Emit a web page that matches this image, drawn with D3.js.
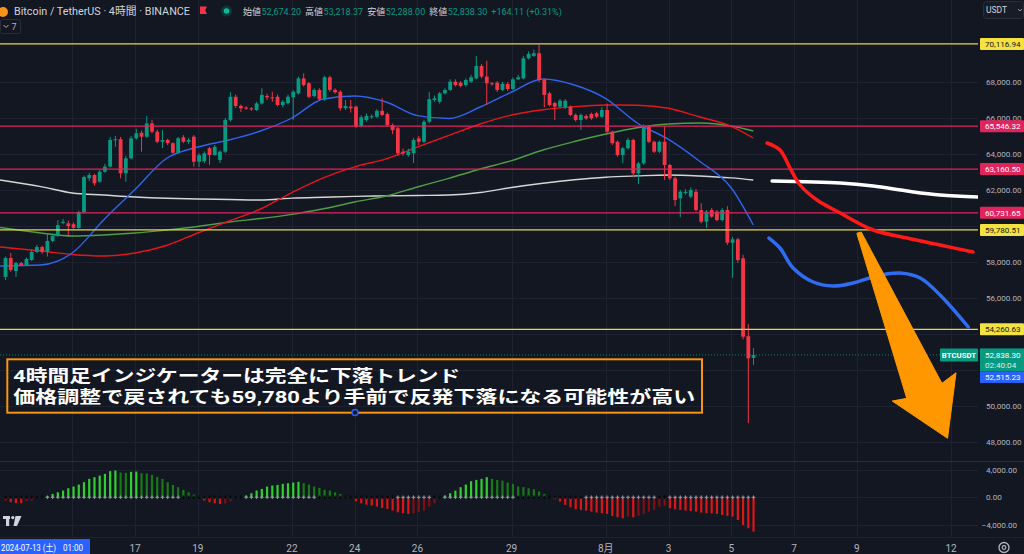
<!DOCTYPE html>
<html><head><meta charset="utf-8">
<script src="https://cdn.jsdelivr.net/npm/d3@7/dist/d3.min.js"></script>
<style>
html,body{margin:0;padding:0;background:#131722;overflow:hidden}
svg{display:block}
text{font-family:Roboto,"Liberation Sans","Noto Sans CJK JP",sans-serif}
</style></head><body>
<svg id="c" width="1024" height="554"></svg>
<script>
// ---------- DATA ----------
const symbolTitle = "Bitcoin / TetherUS · 4時間 · BINANCE";
const ohlcLabels = ["始値","高値","安値","終値"];
const ohlcValues = ["52,674.20","53,218.37","52,288.00","52,838.30"];
const changeText = "+164.11 (+0.31%)";
const firstCandleDay = 12.875;      // 2024-07-12 21:00 (day number in July)
const candleStepDay = 1/6;          // 4h candles

const opens = [57170,58220,57500,57940,57830,58110,58560,58830,58560,59170,
59440,60170,60150,60100,59890,60780,62650,62830,62460,63020,
63300,64780,64820,62930,63760,64870,65180,64960,65700,65240,
64680,64780,64600,64070,64930,64680,64960,63570,63600,64320,
63940,63670,64130,65890,67180,66670,66580,66540,66440,66810,
67220,67150,67180,66720,66830,67150,67370,68200,67930,67220,
67560,67040,68260,67560,67460,66540,66630,66630,65560,65890,
66050,66070,66400,66220,65610,65430,64130,63940,64040,64870,
64680,65790,67000,66900,67370,67560,68020,67960,67830,68020,
68200,68890,68300,67930,67960,67560,67890,67610,68150,68200,
69320,69450,69600,68110,67370,66830,66630,66600,66630,66170,
65890,66110,66220,66260,66070,66440,65240,64680,63940,64320,
64780,62930,63480,65520,64680,64130,64680,63390,62650,61540,
61830,61630,61900,60890,60240,60890,60800,60330,60890,59070,
59260,58200,53880,52674.2];
const highs = [58300,58500,58000,58000,58250,58700,58950,58900,59600,59550,
60330,60400,60300,60200,60850,62800,62950,62900,63100,63450,
64950,65000,64950,63900,65000,65400,65300,66110,65900,65350,
65330,64850,64650,64950,65050,64900,65050,64050,64150,64400,
64500,64200,66000,67430,67300,66750,66650,66600,66900,67650,
67350,67460,67300,67000,67300,67550,68300,68480,68000,67650,
67650,68350,68350,67650,67550,67000,67000,66700,66150,66250,
66200,66500,67100,66300,65700,65500,64300,64300,64900,65000,
65900,67450,67250,67450,67650,68150,68150,68050,68200,68400,
69440,69000,69180,68000,68050,68000,68000,68250,68400,69450,
69700,69800,70080,68200,67450,66900,67050,67050,66700,66250,
66250,66200,66300,66350,66600,66800,65300,64750,64400,64900,
64850,63550,65650,65600,64750,64750,65560,63450,62750,62000,
62050,62150,62050,61270,60900,61000,60900,61000,61100,59400,
59350,58400,54550,53218.37];
const lows = [57000,57450,57170,57780,57780,58050,58500,58450,58300,59100,
59400,60100,59500,59850,59850,60700,62500,62250,62400,62950,
63250,64400,62650,62460,63700,64800,64130,64900,65150,64600,
64330,64500,64000,64000,64600,64550,63300,63280,63500,63390,
63900,63500,64050,65800,66550,66330,66450,66400,66400,66750,
67000,66900,66650,66600,66750,65890,67300,67750,67100,67150,
66950,66950,67450,67350,66400,66450,66300,65450,65480,65800,
65950,66000,66100,65500,65100,63900,63900,63850,63500,64500,
64600,65700,66900,66800,67300,67500,67750,67700,67750,67950,
68150,68200,66720,67800,67450,67500,67500,67550,68100,68150,
69250,69400,68000,66600,66650,65890,66550,66500,66100,65800,
65330,65900,65900,66000,66000,65150,64500,63850,63500,64250,
62700,62330,63400,64600,64050,64050,62560,62550,61100,60480,
61750,61550,60800,60150,59890,60450,60250,60250,58950,57130,
57950,53700,49050,52288];
const closes = [58220,57560,57940,57830,58170,58560,58830,58560,59170,59440,
60050,60230,60000,59900,60780,62720,62830,62370,63020,63300,
64780,64820,62930,63760,64870,65150,64960,65700,65240,64680,
64780,64600,64070,64870,64680,64780,63570,63940,64040,63940,
64400,64130,65890,67180,66670,66540,66520,66480,66810,67280,
67150,67100,66720,66900,67180,67460,68200,67830,67180,67560,
67040,68260,67560,67430,66540,66670,66540,65520,66040,66110,
66100,66400,66170,65610,65330,64040,64040,64130,64780,64680,
65790,67040,67090,67370,67560,68020,67830,67780,68110,68260,
68890,68300,67930,67890,67560,67890,67610,68150,68260,69320,
69560,69600,68110,67280,66720,66630,66960,66960,66170,65890,
66170,65980,65980,66070,66440,65240,64600,63940,64320,64780,
62930,63480,65520,64680,64130,64680,63390,62650,61440,61900,
61900,62000,60890,60240,60800,60520,60330,60890,59070,59260,
58110,53850,52650,52838.3];

// moving averages, sampled by day
const maDays  = [12.7,14,15,16,17,18,19,20,21,22,23,24,25,26,27,28,29,30,31,32,33,34,35,36,36.7];
const maBlue  = [57777,57833,58500,60333,62027,63750,64389,64778,65278,66000,67056,67222,66889,66133,65972,66611,67445,68167,67833,67078,65722,64811,63583,62111,60056];
const maRed   = [58833,58611,58416,58333,58500,58916,59611,60278,60944,61861,62678,63289,63728,64389,65033,65666,66166,66456,66633,66722,66706,66539,66056,65533,64889];
const maGreen = [59917,59611,59444,59500,59611,59778,59972,60222,60416,60644,60955,61333,61666,62166,62650,63166,63633,64222,64694,65111,65461,65667,65722,65555,65278];
const maWhite = [62555,62189,61833,61722,61611,61539,61500,61472,61444,61550,61600,61644,61672,61694,61722,61861,62139,62372,62567,62711,62783,62833,62778,62672,62555];

// hand-drawn projections
const projRedDays = [37.14,37.55,37.87,38.19,38.73,39.47,40.52,41.60,42.65,43.70];
const projRed     = [64611,64222,63222,62278,61444,60722,59778,59333,58944,58555];
const projWhiteDays = [37.30,39.47,40.52,41.60,42.65,43.86];
const projWhite     = [62500,62389,62222,61944,61722,61611];
const projBlueDays = [37.20,37.55,37.97,38.61,39.24,39.88,40.74,41.38,42.02,42.65,43.55];
const projBlue     = [59333,58778,57667,56889,56666,56833,57278,57389,57111,56167,54389];
const arrowDays   = [40.00,40.14,42.71,43.16,42.89,41.13,41.59];
const arrowPrices = [59594,59666,51260,51849,48204,50276,50426];

// horizontal levels
const yellowLevels = [70116.94, 59780.51, 54260.63];
const pinkLevels   = [65546.32, 63160.50, 60731.65];
const lastPrice = 52838.30;
const countdown = "02:40:04";
const blueValue = 52515.23;

// oscillator (squeeze momentum)
const osc = [-500,-700,-850,-870,-580,-480,-150,40,150,480,
720,960,1300,1540,1830,2170,2650,2890,3130,3370,
3760,3860,3570,3520,3660,3710,3470,3420,3230,2940,
2650,2170,1780,1450,1060,720,390,100,-480,-720,
-870,-960,-870,-580,-100,50,240,580,960,1200,
1540,1690,1780,1930,2020,2120,2220,2020,1830,1540,
1350,1060,960,720,480,100,30,-580,-870,-1060,
-1200,-1350,-1540,-1690,-1930,-2170,-2310,-2410,-2310,-2170,
-1930,-1350,-870,-100,240,580,960,1450,1830,2310,
2500,2650,2890,2650,2500,2400,2120,1930,1540,1450,
1300,1160,820,480,50,-290,-630,-1110,-1450,-1740,
-1830,-1930,-2070,-2220,-2310,-2410,-2700,-2890,-3040,-2800,
-2890,-2700,-2410,-2070,-1830,-1350,-1250,-1590,-1740,-1830,
-1930,-1980,-2070,-2220,-2310,-2330,-2410,-2550,-2700,-2800,
-3280,-4000,-4480,-4960];
const sqzOnRanges = [[0,7],[34,45],[60,74],[82,83],[98,110],[125,126]];

// axes
const priceTicks = [48000,50000,52000,54000,56000,58000,60000,62000,64000,66000,68000];
const oscTicks = [4000,0,-4000];
const tickDays = [15,17,19,22,24,26,29,32,34,36,38,40,43];
const tickLabels = ["15","17","19","22","24","26","29","8月","3","5","7","9","12"];
const crosshairLabel = "2024-07-13 (土)";
const crosshairTime = "01:00";
const noteLines = ["4時間足インジケーターは完全に下落トレンド","価格調整で戻されても59,780より手前で反発下落になる可能性が高い"];

// ---------- LAYOUT ----------
const W = 1024, H = 554, plotR = 978, mainBottom = 461, oscTop = 462, oscBottom = 537;
const C = {bg:"#131722", grid:"#1e2230", up:"#089981", down:"#f23645", text:"#b2b5be",
  yellow:"#e6d743", pink:"#e0245e", blue:"#2962ff"};
const svg = d3.select("#c");
const x = d3.scaleLinear().domain([17,43]).range([135,951]);
const y = d3.scaleLinear().domain([48000,68000]).range([442,82]);
const yo = d3.scaleLinear().domain([-4000,4000]).range([525,469.5]);
const fmt = d3.format(",.2f");
const cx = i => x(firstCandleDay + i*candleStepDay);
const AX = 8.1; // axis font size

svg.append("rect").attr("width",W).attr("height",H).attr("fill",C.bg);
const defs = svg.append("defs");
defs.append("clipPath").attr("id","mainClip").append("rect").attr("x",0).attr("y",0).attr("width",plotR).attr("height",mainBottom);
defs.append("clipPath").attr("id","oscClip").append("rect").attr("x",0).attr("y",oscTop).attr("width",plotR).attr("height",oscBottom-oscTop);

// grid
const grid = svg.append("g").attr("stroke",C.grid).attr("stroke-width",1);
grid.selectAll(".hg").data(priceTicks).join("line").attr("x1",0).attr("x2",plotR)
  .attr("y1",d=>Math.round(y(d))+0.5).attr("y2",d=>Math.round(y(d))+0.5);
grid.selectAll(".og").data(oscTicks).join("line").attr("x1",0).attr("x2",plotR)
  .attr("y1",d=>Math.round(yo(d))+0.5).attr("y2",d=>Math.round(yo(d))+0.5);
grid.selectAll(".vg").data(tickDays).join("line").attr("y1",0).attr("y2",oscBottom)
  .attr("x1",d=>Math.round(x(d))+0.5).attr("x2",d=>Math.round(x(d))+0.5);
svg.append("line").attr("x1",0).attr("x2",plotR+46).attr("y1",oscTop-0.5).attr("y2",oscTop-0.5).attr("stroke","#2a2e39");

// main pane
const main = svg.append("g").attr("clip-path","url(#mainClip)");
const line = d3.line().x(d=>x(d[0])).y(d=>y(d[1])).curve(d3.curveMonotoneX);
const maSets = [[maWhite,"#d6d6d6"],[maGreen,"#4f9d45"],[maRed,"#e5161b"],[maBlue,"#2f64ee"]];
maSets.forEach(([vals,col])=>{
  main.append("path").datum(maDays.map((d,k)=>[d,vals[k]])).attr("d",line)
    .attr("fill","none").attr("stroke",col).attr("stroke-width",1.4);
});

// candles
const cg = main.append("g");
closes.forEach((c,i)=>{
  const o=opens[i], col = c>=o?C.up:C.down, xx=cx(i);
  cg.append("line").attr("x1",xx).attr("x2",xx).attr("y1",y(highs[i])).attr("y2",y(lows[i]))
    .attr("stroke",col).attr("stroke-width",1);
  const t=y(Math.max(o,c)), b=y(Math.min(o,c));
  cg.append("rect").attr("x",xx-1.9).attr("width",3.8).attr("y",t).attr("height",Math.max(1,b-t)).attr("fill",col);
});

// levels
const lv = main.append("g");
yellowLevels.forEach(v=>lv.append("line").attr("x1",0).attr("x2",plotR).attr("y1",y(v)).attr("y2",y(v)).attr("stroke",C.yellow).attr("stroke-width",1.3));
pinkLevels.forEach(v=>lv.append("line").attr("x1",0).attr("x2",plotR).attr("y1",y(v)).attr("y2",y(v)).attr("stroke",C.pink).attr("stroke-width",1.3));

// current price line
main.append("line").attr("x1",0).attr("x2",plotR).attr("y1",y(lastPrice)).attr("y2",y(lastPrice))
  .attr("stroke",C.up).attr("stroke-width",1).attr("stroke-dasharray","1,2").attr("opacity",0.8);

// projections
const pline = d3.line().x(d=>x(d[0])).y(d=>y(d[1])).curve(d3.curveCatmullRom);
[[projWhiteDays,projWhite,"#ffffff"],[projRedDays,projRed,"#ff1a1a"],[projBlueDays,projBlue,"#2f6cf2"]].forEach(([ds,vs,col])=>{
  main.append("path").datum(ds.map((d,k)=>[d,vs[k]])).attr("d",pline).attr("fill","none")
    .attr("stroke",col).attr("stroke-width",3.5).attr("stroke-linecap","round").attr("stroke-linejoin","round");
});
// arrow
main.append("polygon").attr("points",arrowDays.map((d,k)=>x(d)+","+y(arrowPrices[k])).join(" "))
  .attr("fill","#ff9800").attr("stroke","#ff9800").attr("stroke-width",1).attr("stroke-linejoin","round");

// note box
const nb = svg.append("g");
nb.append("rect").attr("x",7.3).attr("y",359.3).attr("width",694.7).attr("height",53.4)
  .attr("fill","none").attr("stroke","#f7950f").attr("stroke-width",2);
const noteLens = [447,682], noteY=[381.5,402.5];
noteLines.forEach((t,k)=>{
  nb.append("text").attr("x",13.3).attr("y",noteY[k]).text(t)
    .attr("font-family","'Noto Sans CJK JP',sans-serif").attr("font-weight","bold").attr("font-size",16.5)
    .attr("fill","#ffffff").attr("textLength",noteLens[k]).attr("lengthAdjust","spacingAndGlyphs");
});
nb.append("circle").attr("cx",355).attr("cy",412.5).attr("r",3).attr("fill",C.bg).attr("stroke",C.blue).attr("stroke-width",1.5);

// oscillator
const og = svg.append("g").attr("clip-path","url(#oscClip)");
osc.forEach((v,i)=>{
  const prev = i>0?osc[i-1]:v;
  let col;
  if (v>=0) col = v>prev ? "#30cf30" : "#177a17";
  else col = v<prev ? "#dc1515" : "#7e1015";
  const y0=yo(0), y1=yo(v);
  og.append("rect").attr("x",cx(i)-1.1).attr("width",2.2).attr("y",Math.min(y0,y1)).attr("height",Math.max(0.5,Math.abs(y1-y0))).attr("fill",col);
});
const inSqz = i => sqzOnRanges.some(r=>i>=r[0]&&i<=r[1]);
osc.forEach((v,i)=>{
  const col = inSqz(i)?"#05070b":"#9598a1", xx=cx(i), y0=yo(0);
  og.append("path").attr("d",`M${xx-1.8},${y0}H${xx+1.8}M${xx},${y0-1.8}V${y0+1.8}`).attr("stroke",col).attr("stroke-width",1);
});

// price axis labels (skip those hidden under level / price boxes)
const boxCenters = yellowLevels.concat(pinkLevels).map(v=>y(v));
const lyy = y(lastPrice);
const hidden = v => { const yy=y(v); return boxCenters.some(b=>Math.abs(b-yy)<5.5) || (yy>lyy-8 && yy<lyy+29); };
const ax = svg.append("g").attr("font-size",AX).attr("fill",C.text);
priceTicks.filter(v=>!hidden(v)).forEach(v=>ax.append("text").attr("x",986).attr("y",y(v)+3).text(fmt(v)));
oscTicks.forEach(v=>ax.append("text").attr("x",v<0?981.5:986).attr("y",yo(v)+3).text(v<0?"−"+fmt(-v):fmt(v)));

// level labels
const lab = (v,bg,fg)=>{
  const yy=y(v);
  svg.append("rect").attr("x",980).attr("y",yy-6).attr("width",44).attr("height",12).attr("fill",bg).attr("rx",1);
  svg.append("text").attr("x",985).attr("y",yy+3).attr("font-size",AX).attr("fill",fg).text(fmt(v));
};
yellowLevels.forEach(v=>lab(v,"#f3e23f","#131722"));
pinkLevels.forEach(v=>lab(v,C.pink,"#ffffff"));

// last price labels
const ly = y(lastPrice);
svg.append("rect").attr("x",940).attr("y",ly-6.5).attr("width",38).attr("height",13).attr("fill",C.up).attr("rx",1);
svg.append("text").attr("x",959).attr("y",ly+3).attr("text-anchor","middle").attr("font-size",7.8).attr("font-weight","bold").attr("fill","#fff").text("BTCUSDT");
svg.append("rect").attr("x",980).attr("y",ly-6.5).attr("width",44).attr("height",23).attr("fill",C.up);
svg.append("text").attr("x",985).attr("y",ly+3).attr("font-size",AX).attr("fill","#fff").text(fmt(lastPrice));
svg.append("text").attr("x",985).attr("y",ly+13.5).attr("font-size",AX).attr("fill","#d8f0ea").text(countdown);
svg.append("rect").attr("x",980).attr("y",ly+16.5).attr("width",44).attr("height",11.5).attr("fill",C.blue);
svg.append("text").attr("x",985).attr("y",ly+25.3).attr("font-size",AX).attr("fill","#fff").text(fmt(blueValue));

// time axis
svg.append("line").attr("x1",0).attr("x2",W).attr("y1",oscBottom+0.5).attr("y2",oscBottom+0.5).attr("stroke","#1e2230");
const ta = svg.append("g").attr("font-size",10).attr("fill",C.text).attr("text-anchor","middle");
tickDays.forEach((d,k)=>{ if (x(d) > 100) ta.append("text").attr("x",x(d)).attr("y",551.5).text(tickLabels[k]); });
svg.append("rect").attr("x",0).attr("y",539).attr("width",90).attr("height",15).attr("fill",C.blue);
svg.append("text").attr("x",1).attr("y",550.5).attr("font-size",9).attr("fill","#fff")
  .attr("textLength",55).attr("lengthAdjust","spacingAndGlyphs").text(crosshairLabel);
svg.append("text").attr("x",63).attr("y",550.5).attr("font-size",9).attr("fill","#fff")
  .attr("textLength",20).attr("lengthAdjust","spacingAndGlyphs").text(crosshairTime);
// settings icon
svg.append("circle").attr("cx",1004).attr("cy",547.5).attr("r",5).attr("fill","none").attr("stroke",C.text).attr("stroke-width",1.3);
svg.append("circle").attr("cx",1004).attr("cy",547.5).attr("r",1.8).attr("fill","none").attr("stroke",C.text).attr("stroke-width",1.2);

// TV logo
const logo = svg.append("g").attr("fill","#d1d4dc");
logo.append("rect").attr("x",3).attr("y",516).attr("width",7).attr("height",3);
logo.append("rect").attr("x",6).attr("y",516).attr("width",3.2).attr("height",10);
logo.append("circle").attr("cx",12.8).attr("cy",517.6).attr("r",1.6);
logo.append("polygon").attr("points","15.5,516 21.5,516 17,526 13.5,526");

// header
const hd = svg.append("g");
hd.append("circle").attr("cx",3).attr("cy",12).attr("r",5).attr("fill","#f7931a");
hd.append("text").attr("x",14).attr("y",15).attr("font-size",11).attr("fill","#d1d4dc")
  .attr("textLength",176).attr("lengthAdjust","spacingAndGlyphs").text(symbolTitle);
hd.append("path").attr("d","M200,6.5H207L205.2,10.2L207,14H200Z").attr("fill","#f23645");
hd.append("circle").attr("cx",226.5).attr("cy",11).attr("r",5.5).attr("fill","#0b3a35");
hd.append("circle").attr("cx",226.5).attr("cy",11).attr("r",2.8).attr("fill","#0fb89a");
let hx = 243;
ohlcLabels.forEach((l,k)=>{
  const t1 = hd.append("text").attr("x",hx).attr("y",14.5).attr("font-size",9).attr("fill","#d1d4dc").text(l);
  hx += t1.node().getComputedTextLength()+0.5;
  const t2 = hd.append("text").attr("x",hx).attr("y",14.5).attr("font-size",9).attr("fill",C.up).text(ohlcValues[k]);
  hx += t2.node().getComputedTextLength()+4;
});
hd.append("text").attr("x",hx).attr("y",14.5).attr("font-size",9).attr("fill",C.up).text(changeText);
// indicator toggle
hd.append("rect").attr("x",0.5).attr("y",19.5).attr("width",20).attr("height",14).attr("rx",2).attr("fill","none").attr("stroke","#2a2e39");
hd.append("path").attr("d","M3.5,25L6,27.5L8.5,25").attr("fill","none").attr("stroke",C.text).attr("stroke-width",1);
hd.append("text").attr("x",11.5).attr("y",30).attr("font-size",9).attr("fill",C.text).text("7");
// USDT button
hd.append("rect").attr("x",983.5).attr("y",1.5).attr("width",40).attr("height",17).attr("rx",3).attr("fill","#181c27").attr("stroke","#2a2e39");
hd.append("text").attr("x",986).attr("y",13).attr("font-size",8.5).attr("fill","#d1d4dc").text("USDT");
hd.append("path").attr("d","M1018,9L1020,11L1022,9").attr("fill","none").attr("stroke",C.text).attr("stroke-width",0.8);
</script></body></html>
